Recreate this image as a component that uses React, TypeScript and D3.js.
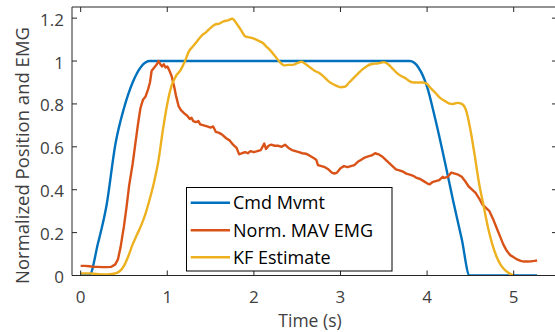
import React from "react";
import * as d3 from "d3";

const xTicks = [0, 1, 2, 3, 4, 5];
const yTicks = [0, 0.2, 0.4, 0.6, 0.8, 1, 1.2];
const yTickLabels = ["0", "0.2", "0.4", "0.6", "0.8", "1", "1.2"];

const cmdT = [0, 0.1, 0.2, 0.3, 0.4, 0.5, 0.6, 0.7, 0.8, 3.8, 3.9, 4.0, 4.1, 4.2, 4.3, 4.4, 4.49, 5.27];
const cmdV = [0, 0, 0.15, 0.33, 0.61, 0.78, 0.9, 0.975, 1.0, 1.0, 0.97, 0.88, 0.72, 0.54, 0.35, 0.17, 0, 0];

const emgT = [0, 0.05, 0.1, 0.15, 0.2, 0.25, 0.3, 0.35, 0.4, 0.43, 0.46, 0.5, 0.53, 0.56, 0.6, 0.63, 0.66, 0.69, 0.72, 0.75, 0.78, 0.8, 0.82, 0.85, 0.88, 0.9, 0.92, 0.94, 0.96, 0.98, 1.0, 1.02, 1.05, 1.08, 1.1, 1.13, 1.16, 1.2, 1.23, 1.26, 1.28, 1.3, 1.33, 1.36, 1.38, 1.42, 1.46, 1.5, 1.53, 1.56, 1.6, 1.64, 1.68, 1.72, 1.76, 1.8, 1.83, 1.86, 1.9, 1.93, 1.96, 2.0, 2.04, 2.08, 2.12, 2.14, 2.17, 2.2, 2.24, 2.28, 2.32, 2.36, 2.4, 2.44, 2.48, 2.52, 2.56, 2.6, 2.64, 2.68, 2.72, 2.74, 2.78, 2.82, 2.86, 2.9, 2.93, 2.96, 3.0, 3.04, 3.08, 3.12, 3.16, 3.2, 3.24, 3.28, 3.32, 3.36, 3.4, 3.44, 3.48, 3.52, 3.56, 3.6, 3.64, 3.68, 3.72, 3.76, 3.8, 3.84, 3.88, 3.92, 3.96, 4.0, 4.03, 4.06, 4.1, 4.14, 4.18, 4.2, 4.24, 4.28, 4.32, 4.36, 4.4, 4.44, 4.48, 4.52, 4.56, 4.6, 4.64, 4.68, 4.72, 4.76, 4.8, 4.84, 4.88, 4.92, 4.96, 5.0, 5.04, 5.08, 5.12, 5.16, 5.2, 5.24, 5.27];
const emgV = [0.045, 0.045, 0.043, 0.04, 0.04, 0.039, 0.039, 0.04, 0.052, 0.075, 0.13, 0.23, 0.32, 0.42, 0.52, 0.61, 0.7, 0.78, 0.82, 0.835, 0.87, 0.9, 0.955, 0.97, 0.985, 1.0, 0.985, 0.975, 0.985, 0.97, 0.975, 0.96, 0.93, 0.88, 0.84, 0.79, 0.77, 0.755, 0.745, 0.73, 0.735, 0.72, 0.715, 0.72, 0.705, 0.7, 0.695, 0.69, 0.695, 0.67, 0.665, 0.655, 0.64, 0.63, 0.61, 0.595, 0.565, 0.57, 0.575, 0.57, 0.58, 0.575, 0.58, 0.585, 0.615, 0.59, 0.605, 0.61, 0.605, 0.605, 0.6, 0.61, 0.595, 0.585, 0.58, 0.575, 0.57, 0.568, 0.56, 0.55, 0.54, 0.515, 0.51, 0.505, 0.495, 0.48, 0.475, 0.48, 0.5, 0.51, 0.505, 0.51, 0.515, 0.53, 0.54, 0.55, 0.555, 0.56, 0.57, 0.565, 0.555, 0.54, 0.525, 0.51, 0.495, 0.49, 0.485, 0.475, 0.47, 0.465, 0.455, 0.45, 0.44, 0.43, 0.425, 0.435, 0.44, 0.445, 0.46, 0.455, 0.46, 0.48, 0.475, 0.47, 0.46, 0.44, 0.415, 0.4, 0.385, 0.36, 0.33, 0.315, 0.3, 0.265, 0.225, 0.185, 0.145, 0.115, 0.095, 0.085, 0.075, 0.068, 0.065, 0.065, 0.066, 0.068, 0.07];

const kfT = [0, 0.1, 0.2, 0.3, 0.38, 0.45, 0.5, 0.55, 0.6, 0.65, 0.7, 0.75, 0.8, 0.85, 0.9, 0.95, 1.0, 1.05, 1.1, 1.15, 1.2, 1.25, 1.3, 1.35, 1.4, 1.45, 1.5, 1.55, 1.6, 1.65, 1.7, 1.75, 1.8, 1.85, 1.9, 1.95, 2.0, 2.05, 2.1, 2.15, 2.2, 2.25, 2.3, 2.35, 2.4, 2.45, 2.5, 2.55, 2.6, 2.65, 2.7, 2.75, 2.8, 2.85, 2.9, 2.95, 3.0, 3.05, 3.1, 3.15, 3.2, 3.25, 3.3, 3.35, 3.4, 3.45, 3.5, 3.55, 3.6, 3.65, 3.7, 3.75, 3.8, 3.85, 3.9, 3.95, 4.0, 4.05, 4.1, 4.15, 4.2, 4.25, 4.3, 4.35, 4.4, 4.45, 4.5, 4.55, 4.6, 4.65, 4.7, 4.75, 4.8, 4.85, 4.9, 4.95, 5.0];
const kfV = [0.01, 0.01, 0.006, 0.005, 0.008, 0.02, 0.045, 0.09, 0.145, 0.19, 0.235, 0.29, 0.36, 0.44, 0.54, 0.68, 0.8, 0.885, 0.93, 0.955, 0.995, 1.045, 1.07, 1.095, 1.12, 1.135, 1.155, 1.17, 1.175, 1.185, 1.19, 1.197, 1.175, 1.145, 1.115, 1.11, 1.105, 1.095, 1.085, 1.065, 1.045, 1.02, 0.995, 0.98, 0.982, 0.982, 0.99, 0.997, 0.985, 0.97, 0.955, 0.945, 0.93, 0.91, 0.895, 0.885, 0.878, 0.88, 0.9, 0.92, 0.94, 0.96, 0.975, 0.985, 0.988, 0.99, 0.995, 0.985, 0.965, 0.945, 0.93, 0.92, 0.905, 0.9, 0.9, 0.9, 0.893, 0.87, 0.85, 0.828, 0.815, 0.803, 0.8, 0.805, 0.8, 0.77, 0.68, 0.56, 0.43, 0.33, 0.23, 0.15, 0.09, 0.05, 0.025, 0.01, 0.0];

const seriesNames = ["Cmd Mvmt", "Norm. MAV EMG", "KF Estimate"];
const seriesColors = ["#0072BD", "#D95319", "#EDB120"];

const W = 555;
const H = 332;
const left = 72;
const right = 557;
const top = 7;
const bottom = 275.5;
const FONT = "'Open Sans', sans-serif";
const AX = "#262626";

export default function App() {
  const x = d3.scaleLinear().domain([-0.1, 5.5]).range([left, right]);
  const y = d3.scaleLinear().domain([0, 1.252]).range([bottom, top]);
  const mk = (ts: number[], vs: number[], curve: any) =>
    d3
      .line<number>()
      .x((_, i) => x(ts[i]))
      .y((v) => y(v))
      .curve(curve)(vs) || "";
  const paths = [
    mk(cmdT, cmdV, d3.curveMonotoneX),
    mk(emgT, emgV, d3.curveLinear),
    mk(kfT, kfV, d3.curveMonotoneX),
  ];
  const tl = 5;
  const legX = 186.5;
  const legY = 187.5;
  const legW = 205.5;
  const legH = 83.5;
  const rows = [202.7, 230.2, 257.3];

  return (
    <svg width={W} height={H} style={{ position: "absolute", left: 0, top: 0, background: "#fff" }}>
      <defs>
        <clipPath id="clip">
          <rect x={left} y={top} width={right - left} height={bottom - top} />
        </clipPath>
      </defs>
      <rect x={0} y={0} width={W} height={H} fill="#fff" />
      <g clipPath="url(#clip)" fill="none" strokeWidth={2.4} strokeLinejoin="round">
        {paths.map((d, i) => (
          <path key={i} d={d} stroke={seriesColors[i]} />
        ))}
      </g>
      <g stroke={AX} strokeWidth={1} fill="none">
        <line x1={left} x2={right} y1={bottom} y2={bottom} />
        <line x1={left} x2={right} y1={top} y2={top} />
        <line x1={left} x2={left} y1={top} y2={bottom} />
        <line x1={right} x2={right} y1={top} y2={bottom} />
        {xTicks.map((t) => (
          <g key={"xt" + t}>
            <line x1={x(t)} x2={x(t)} y1={bottom} y2={bottom - tl} />
            <line x1={x(t)} x2={x(t)} y1={top} y2={top + tl} />
          </g>
        ))}
        {yTicks.map((t) => (
          <g key={"yt" + t}>
            <line x1={left} x2={left + tl} y1={y(t)} y2={y(t)} />
            <line x1={right} x2={right - tl} y1={y(t)} y2={y(t)} />
          </g>
        ))}
      </g>
      <g fontFamily={FONT} fontSize={17} fill="#404040">
        {xTicks.map((t) => (
          <text key={"xl" + t} x={x(t)} y={302.5} textAnchor="middle">
            {String(t)}
          </text>
        ))}
        {yTicks.map((t, i) => (
          <text key={"yl" + t} x={left - 8} y={y(t) + 7.5} textAnchor="end">
            {yTickLabels[i]}
          </text>
        ))}
        <text x={310} y={326.5} textAnchor="middle" fontSize={17.5}>
          Time (s)
        </text>
        <text
          transform={`translate(29, 155.5) rotate(-90)`}
          textAnchor="middle"
          fontSize={18.5}
        >
          Normalized Position and EMG
        </text>
      </g>
      <rect x={legX} y={legY} width={legW} height={legH} fill="#fff" stroke="#000" strokeWidth={1} />
      {seriesNames.map((n, i) => (
        <g key={n}>
          <line x1={190.7} x2={230} y1={rows[i]} y2={rows[i]} stroke={seriesColors[i]} strokeWidth={2.4} />
          <text x={233} y={rows[i] + 6.5} fontFamily={FONT} fontSize={18} fill="#000">
            {n}
          </text>
        </g>
      ))}
    </svg>
  );
}
